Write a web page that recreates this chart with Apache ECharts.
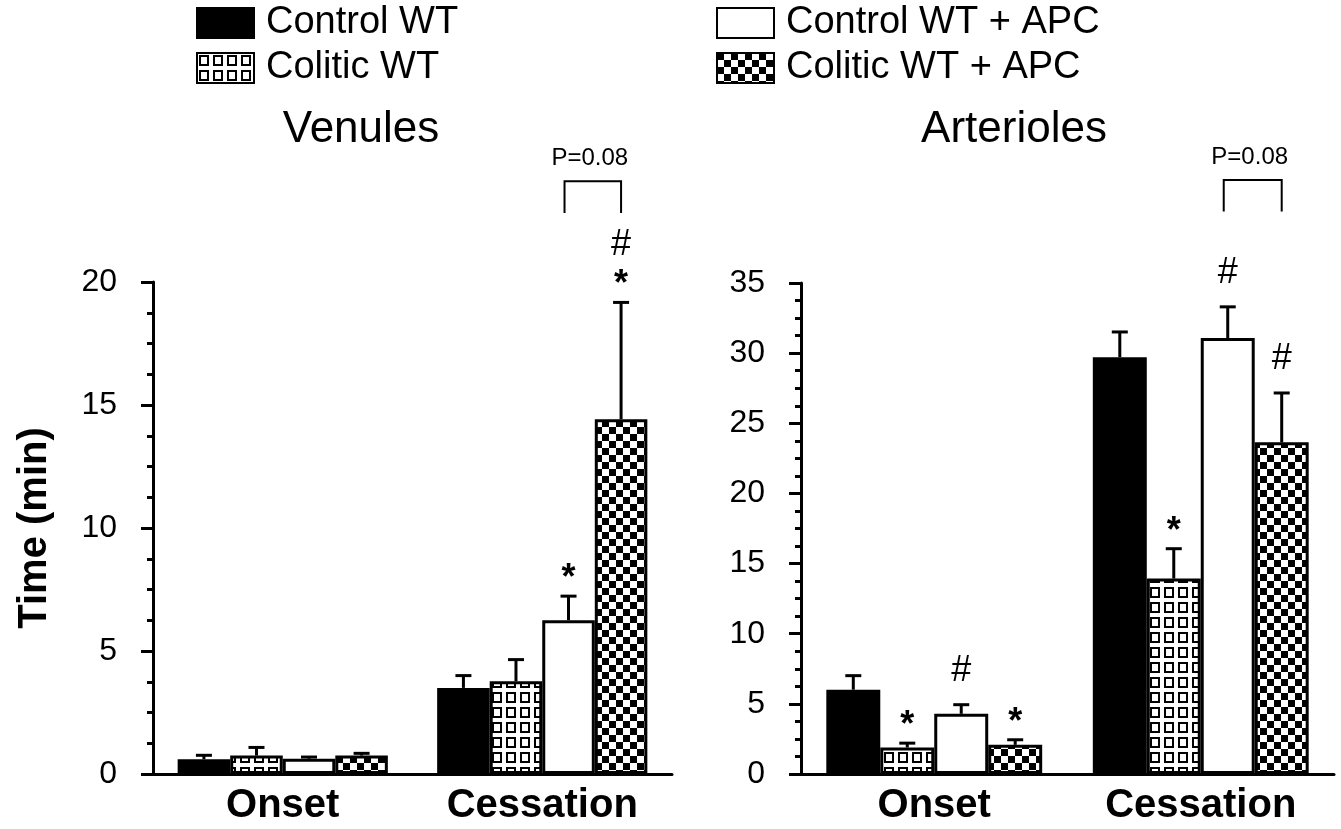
<!DOCTYPE html>
<html><head><meta charset="utf-8">
<script src="https://cdn.jsdelivr.net/npm/echarts@6/dist/echarts.min.js"></script>
<style>html,body{margin:0;padding:0;background:#fff}#c{width:1341px;height:829px}</style>
</head><body><div id="c"></div>
<script>
// ---------- DATA ----------
const categories = ['Onset', 'Cessation'];
const seriesNames = ['Control WT', 'Colitic WT', 'Control WT + APC', 'Colitic WT + APC'];
const panelTitles = ['Venules', 'Arterioles'];
const yAxisName = 'Time (min)';

// Venules (mean, SEM)
const venControlWT      = [0.60, 3.50];
const venColiticWT      = [0.75, 3.77];
const venControlAPC     = [0.62, 6.25];
const venColiticAPC     = [0.75, 14.42];
const venControlWTErr   = [0.16, 0.50];
const venColiticWTErr   = [0.33, 0.88];
const venControlAPCErr  = [0.07, 0.98];
const venColiticAPCErr  = [0.09, 4.75];
const venControlWTSig   = ['', ''];
const venColiticWTSig   = ['', ''];
const venControlAPCSig  = ['', '*'];
const venColiticAPCSig  = ['', '#\n*'];

// Arterioles (mean, SEM)
const artControlWT      = [6.01, 29.71];
const artColiticWT      = [1.89, 13.93];
const artControlAPC     = [4.29, 31.08];
const artColiticAPC     = [2.08, 23.64];
const artControlWTErr   = [1.00, 1.80];
const artColiticWTErr   = [0.31, 2.13];
const artControlAPCErr  = [0.65, 2.22];
const artColiticAPCErr  = [0.36, 3.52];
const artControlWTSig   = ['', ''];
const artColiticWTSig   = ['*', '*'];
const artControlAPCSig  = ['#', '#'];
const artColiticAPCSig  = ['*', '#'];

// y axes
const venYMax = 20, venYInterval = 5;
const artYMax = 35, artYInterval = 5;

// P-value brackets: [categoryIndex, fromSeries, toSeries, lowValue, highValue]
const venBracket = [1, 2, 3, 22.8, 24.1];
const artBracket = [1, 2, 3, 40.1, 42.35];
const bracketText = 'P=0.08';

// ---------- STYLE / HELPERS ----------
const FONT = "'Liberation Sans', Arial, Helvetica, sans-serif";
const GAP = 0.19;

function makePattern(kind) {
  const c = document.createElement('canvas');
  const ctx = c.getContext('2d');
  if (kind === 'grid') {
    c.width = 14; c.height = 15;
    ctx.fillStyle = '#fff'; ctx.fillRect(0, 0, 14, 15);
    ctx.strokeStyle = '#000'; ctx.lineWidth = 2;
    ctx.strokeRect(3, 3, 8, 9);
  } else {
    c.width = 14; c.height = 14;
    ctx.fillStyle = '#fff'; ctx.fillRect(0, 0, 14, 14);
    ctx.fillStyle = '#000';
    ctx.fillRect(0, 0, 7, 7); ctx.fillRect(7, 7, 7, 7);
  }
  return c;
}
const fills = [
  '#000000',
  { image: makePattern('grid'), repeat: 'repeat' },
  '#ffffff',
  { image: makePattern('checker'), repeat: 'repeat' }
];

function barX(api, cat, pos) {
  const c = api.coord([cat, 0]);
  const band = api.size([1, 0])[0];
  const bw = band * (1 - GAP) / 4;
  return c[0] - 2 * bw + (pos + 0.5) * bw;
}

function errSeries(gridIdx, pos, means, errs, sigs) {
  return {
    type: 'custom', name: seriesNames[pos] + ' err', xAxisIndex: gridIdx, yAxisIndex: gridIdx,
    z: 5, silent: true, clip: false,
    data: means.map((m, i) => [i, m, errs[i]]),
    renderItem: function (params, api) {
      const cat = api.value(0), mean = api.value(1), err = api.value(2);
      const x = barX(api, cat, pos);
      const y0 = api.coord([cat, mean])[1];
      const y1 = api.coord([cat, mean + err])[1];
      const children = [
        { type: 'line', shape: { x1: x, y1: y0, x2: x, y2: y1 }, style: { stroke: '#000', lineWidth: 3 } },
        { type: 'line', shape: { x1: x - 8, y1: y1, x2: x + 8, y2: y1 }, style: { stroke: '#000', lineWidth: 3 } }
      ];
      const sig = sigs[params.dataIndex];
      if (sig) {
        const parts = sig.split('\n').reverse();
        let center = y1;
        parts.forEach((ch, k) => {
          center -= (k === 0 ? (ch === '#' ? 34 : 26) : 31);
          const yy = ch === '*' ? center + 9 : center;
          children.push({
            type: 'text',
            style: { text: ch, x: x, y: yy, align: 'center', verticalAlign: 'middle',
                     font: (ch === '*' ? 'bold 36px ' : '36px ') + FONT, fill: '#000' }
          });
        });
      }
      return { type: 'group', children: children };
    }
  };
}

function bracketSeries(gridIdx, b) {
  return {
    type: 'custom', xAxisIndex: gridIdx, yAxisIndex: gridIdx, z: 5, silent: true, clip: false,
    data: [b],
    renderItem: function (params, api) {
      const cat = api.value(0);
      const xa = barX(api, cat, api.value(1)) - 4;
      const xb = barX(api, cat, api.value(2));
      const yl = api.coord([cat, api.value(3)])[1];
      const yh = api.coord([cat, api.value(4)])[1];
      return { type: 'group', children: [
        { type: 'polyline', shape: { points: [[xa, yl], [xa, yh], [xb, yh], [xb, yl]] },
          style: { stroke: '#000', lineWidth: 2, fill: null } },
        { type: 'text', style: { text: bracketText, x: (xa + xb) / 2 - 3, y: yh - 23, align: 'center',
          verticalAlign: 'middle', font: '24px ' + FONT, fill: '#000' } }
      ]};
    }
  };
}

function barSeries(gridIdx, pos, data) {
  return {
    type: 'bar', name: seriesNames[pos], xAxisIndex: gridIdx, yAxisIndex: gridIdx,
    data: data, barGap: '0%', barCategoryGap: (GAP * 100) + '%',
    itemStyle: { color: fills[pos], borderColor: '#000', borderWidth: 3 },
    emphasis: { disabled: true }, silent: true
  };
}

function yAxis(gridIdx, max, interval, name) {
  return {
    type: 'value', gridIndex: gridIdx, min: 0, max: max, interval: interval,
    name: name || '', nameLocation: 'middle', nameGap: 98, nameRotate: 90,
    nameTextStyle: { fontFamily: FONT, fontSize: 40, fontWeight: 'bold', color: '#000' },
    axisLine: { show: true, lineStyle: { color: '#000', width: 3 } },
    axisTick: { show: true, inside: false, length: 12, lineStyle: { color: '#000', width: 3 } },
    minorTick: { show: true, splitNumber: 4, length: 6, lineStyle: { color: '#000', width: 3 } },
    splitLine: { show: false }, minorSplitLine: { show: false },
    axisLabel: { fontFamily: FONT, fontSize: 32, color: '#000', margin: 36 }
  };
}

function xAxis(gridIdx) {
  return {
    type: 'category', gridIndex: gridIdx, data: categories,
    axisLine: { show: true, lineStyle: { color: '#000', width: 3 } },
    axisTick: { show: false },
    axisLabel: { fontFamily: FONT, fontSize: 40, fontWeight: 'bold', color: '#000', margin: 12 }
  };
}

const venData = [venControlWT, venColiticWT, venControlAPC, venColiticAPC];
const venErr = [venControlWTErr, venColiticWTErr, venControlAPCErr, venColiticAPCErr];
const venSig = [venControlWTSig, venColiticWTSig, venControlAPCSig, venColiticAPCSig];
const artData = [artControlWT, artColiticWT, artControlAPC, artColiticAPC];
const artErr = [artControlWTErr, artColiticWTErr, artControlAPCErr, artColiticAPCErr];
const artSig = [artControlWTSig, artColiticWTSig, artControlAPCSig, artColiticAPCSig];

const series = [];
venData.forEach((d, i) => series.push(barSeries(0, i, d)));
artData.forEach((d, i) => series.push(barSeries(1, i, d)));
venData.forEach((d, i) => series.push(errSeries(0, i, d, venErr[i], venSig[i])));
artData.forEach((d, i) => series.push(errSeries(1, i, d, artErr[i], artSig[i])));
series.push(bracketSeries(0, venBracket));
series.push(bracketSeries(1, artBracket));

const legendCommon = {
  orient: 'vertical', top: 4, padding: 0, itemWidth: 57, itemHeight: 30, itemGap: 7,
  selectedMode: false, icon: 'rect',
  textStyle: { fontFamily: FONT, fontSize: 38, color: '#000', padding: [0, 0, 0, 7] }
};

const option = {
  animation: false,
  backgroundColor: '#fff',
  grid: [
    { left: 153, top: 282, width: 519, bottom: 55, containLabel: false, outerBoundsMode: 'none' },
    { left: 801, top: 283, width: 533, bottom: 55, containLabel: false, outerBoundsMode: 'none' }
  ],
  xAxis: [xAxis(0), xAxis(1)],
  yAxis: [yAxis(0, venYMax, venYInterval, yAxisName), yAxis(1, artYMax, artYInterval)],
  legend: [
    Object.assign({}, legendCommon, { left: 196, data: [seriesNames[0], seriesNames[1]] }),
    Object.assign({}, legendCommon, { left: 716, data: [seriesNames[2], seriesNames[3]] })
  ],
  graphic: [
    { type: 'text', x: 361, y: 130, style: { text: panelTitles[0], align: 'center', verticalAlign: 'middle', font: '44px ' + FONT, fill: '#000' } },
    { type: 'text', x: 1014, y: 130, style: { text: panelTitles[1], align: 'center', verticalAlign: 'middle', font: '44px ' + FONT, fill: '#000' } }
  ],
  series: series
};

const chart = echarts.init(document.getElementById('c'), null, { renderer: 'canvas' });
chart.setOption(option);
</script>
</body></html>
